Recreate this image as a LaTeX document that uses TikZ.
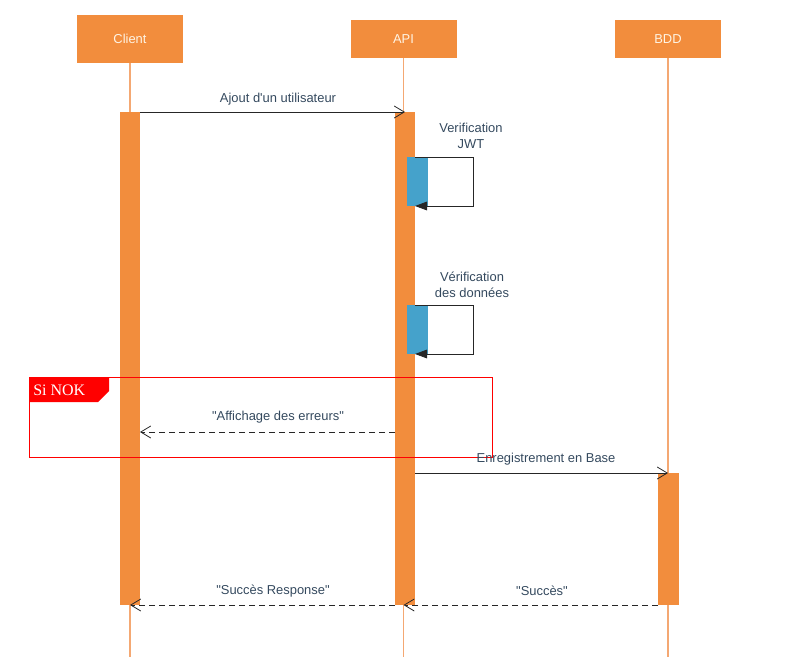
\documentclass[tikz,border=0pt]{standalone}
\usepackage{fontspec}
\setmainfont{Liberation Sans}[Ligatures=TeXOff]
\newfontfamily\serifnok{Liberation Serif}
\usetikzlibrary{arrows.meta}
\definecolor{orng}{HTML}{F28D3D}
\definecolor{lline}{HTML}{F4A873}
\definecolor{blu}{HTML}{45A2CB}
\definecolor{txt}{HTML}{34495E}
\definecolor{boxtxt}{HTML}{FFF4E4}
\tikzset{
  actor/.style={fill=orng, draw=none, minimum width=79.5pt, text=boxtxt, font=\fontsize{9.7}{11.5}\selectfont, inner sep=0pt},
  lifeln/.style={draw=lline, line width=0.8pt},
  actbar/.style={fill=orng, draw=none},
  selfbar/.style={fill=blu, draw=none},
  msg/.style={draw=black!85, line width=0.6pt, -{Straight Barb[length=7.5pt,width=9pt,line width=0.6pt]}},
  retmsg/.style={draw=black!85, line width=0.6pt, dash pattern=on 4.5pt off 3pt, -{Straight Barb[length=7.5pt,width=9pt,line width=0.6pt]}},
  selfmsg/.style={draw=black!85, line width=0.6pt, -{Triangle[length=9pt,width=6.5pt]}},
  lbl/.style={text=txt, font=\fontsize{9.7}{12}\selectfont, align=center, inner sep=0pt},
}
\begin{document}
\begin{tikzpicture}[x=0.75pt, y=-0.75pt]
\useasboundingbox (0,0) rectangle (786,657);
% actors
\node[actor, minimum height=36pt] (client) at (130,39) {Client};
\node[actor, minimum height=28.5pt] (api) at (403.5,39) {API};
\node[actor, minimum height=28.5pt] (bdd) at (668,39) {BDD};
% lifeline ends
\coordinate (clientend) at (130,657);
\coordinate (apiend) at (403.5,657);
\coordinate (bddend) at (668,657);
\draw[lifeln] (client.south) -- (clientend);
\draw[lifeln] (api.south) -- (apiend);
\draw[lifeln] (bdd.south) -- (bddend);
% activation bars
\path[actbar] (120,112) rectangle (140,605);
\path[actbar] (395,112) rectangle (415,605);
\path[actbar] (658,473) rectangle (679,605);
% named anchor points
\coordinate (c1) at (140,112);
\coordinate (a1) at (405,112);
% message 1
\draw[msg] (c1) -- (a1);
\node[lbl] (l1) at (278,99) {Ajout d'un utilisateur};
% self message 1
\path[selfbar] (407,157) rectangle (428,206);
\coordinate (s1a) at (415,157);
\coordinate (s1b) at (473,157);
\coordinate (s1c) at (473,206);
\coordinate (s1d) at (415,206);
\draw[selfmsg] (s1a) -- (s1b) -- (s1c) -- (s1d);
\node[lbl] (l2) at (471,136) {Verification\\JWT};
% self message 2
\path[selfbar] (407,305) rectangle (428,354);
\coordinate (s2a) at (415,305);
\coordinate (s2b) at (473,305);
\coordinate (s2c) at (473,354);
\coordinate (s2d) at (415,354);
\draw[selfmsg] (s2a) -- (s2b) -- (s2c) -- (s2d);
\node[lbl] (l3) at (472,285) {Vérification\\des données};
% alt frame
\draw[red, line width=0.7pt] (29,377) rectangle (492,457);
\fill[red] (29,377) -- (109,377) -- (109,391) -- (98,402) -- (29,402) -- cycle;
\node[text=white, font=\serifnok\fontsize{12}{14}\selectfont, anchor=west, inner sep=0pt] (nok) at (33,390) {Si NOK};
% error message
\coordinate (a2) at (395,432);
\coordinate (c2) at (140,432);
\draw[retmsg] (a2) -- (c2);
\node[lbl] (l4) at (278,417) {"Affichage des erreurs"};
% save
\coordinate (a3) at (415,473);
\coordinate (b3) at (668,473);
\draw[msg] (a3) -- (b3);
\node[lbl] (l5) at (546,459) {Enregistrement en Base};
% return
\coordinate (b4) at (658,605);
\coordinate (a4) at (403.5,605);
\coordinate (a5) at (395,605);
\coordinate (c5) at (130,605);
\draw[retmsg] (b4) -- (a4);
\node[lbl] (l6) at (542,591) {"Succès"};
\draw[retmsg] (a5) -- (c5);
\node[lbl] (l7) at (273,591) {"Succès Response"};
\end{tikzpicture}
\end{document}
